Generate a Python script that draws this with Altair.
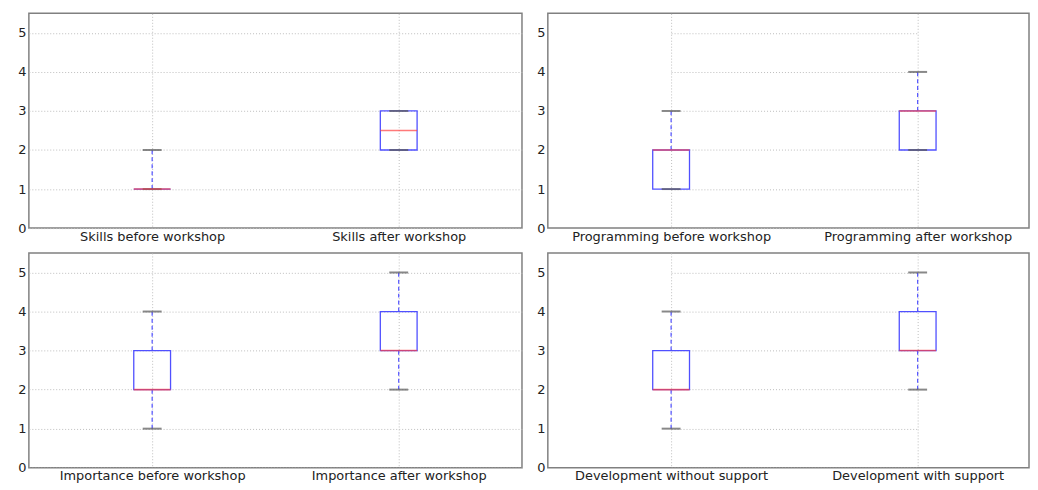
import altair as alt
import pandas as pd

panel_cats = [
    ["Skills before workshop", "Skills after workshop"],
    ["Programming before workshop", "Programming after workshop"],
    ["Importance before workshop", "Importance after workshop"],
    ["Development without support", "Development with support"],
]
whisker_lo = [[1, 2], [1, 2], [1, 2], [1, 2]]
q1 = [[1, 2], [1, 2], [2, 3], [2, 3]]
median = [[1, 2.5], [2, 3], [2, 3], [2, 3]]
q3 = [[1, 3], [2, 3], [3, 4], [3, 4]]
whisker_hi = [[2, 3], [3, 4], [4, 5], [4, 5]]
y_ticks = [0, 1, 2, 3, 4, 5]

BLUE = "#5050ff"
RED = "#ff4040"
CAP = "#555555"
FONT = "DejaVu Sans"
H = 216


def panel(i, width, xrange=None):
    df = pd.DataFrame({
        "cat": panel_cats[i],
        "lo": whisker_lo[i],
        "q1": q1[i],
        "med": median[i],
        "q3": q3[i],
        "hi": whisker_hi[i],
    })
    if xrange is None:
        xscale = alt.Scale(type="point", padding=0.5)
    else:
        xscale = alt.Scale(type="point", range=xrange, padding=0)
    x = alt.X(
        "cat:N", sort=panel_cats[i], scale=xscale,
        axis=alt.Axis(title=None, labelAngle=0, grid=True, ticks=False,
                      domain=False, labelPadding=2, labelLimit=0),
    )
    yscale = alt.Scale(domain=[0, 5.5], nice=False, zero=True)
    yaxis = alt.Axis(values=y_ticks, title=None, grid=True, ticks=False,
                     domain=False, labelPadding=3)
    base = alt.Chart(df)
    w1 = base.mark_rule(color=BLUE, strokeDash=[4, 3], strokeWidth=1.2).encode(
        x=x, y=alt.Y("lo:Q", scale=yscale, axis=yaxis), y2="q1:Q")
    w2 = base.mark_rule(color=BLUE, strokeDash=[4, 3], strokeWidth=1.2).encode(
        x=x, y=alt.Y("q3:Q", scale=yscale, axis=yaxis), y2="hi:Q")
    box = base.mark_bar(size=37, fill="white", fillOpacity=0, stroke=BLUE,
                        strokeWidth=1.3).encode(
        x=x, y=alt.Y("q1:Q", scale=yscale, axis=yaxis), y2="q3:Q")
    cap_lo = base.mark_tick(size=19, thickness=2, color=CAP).encode(
        x=x, y=alt.Y("lo:Q", scale=yscale, axis=yaxis))
    cap_hi = base.mark_tick(size=19, thickness=2, color=CAP).encode(
        x=x, y=alt.Y("hi:Q", scale=yscale, axis=yaxis))
    med = base.mark_tick(size=37, thickness=1.6, color=RED).encode(
        x=x, y=alt.Y("med:Q", scale=yscale, axis=yaxis))
    return alt.layer(w1, w2, box, cap_lo, cap_hi, med).properties(width=width, height=H)


top = alt.hconcat(panel(0, 496), panel(1, 484, [124, 372]), spacing=12)
bottom = alt.hconcat(panel(2, 496), panel(3, 484, [124, 372]), spacing=12)
chart = alt.vconcat(top, bottom, spacing=8).properties(
    padding={"left": 8, "top": 3, "right": 0, "bottom": 0},
    background="white",
).configure_view(
    stroke="#808080", strokeWidth=1.5
).configure_axis(
    labelFont=FONT, labelFontSize=13, labelColor="#222222",
    gridColor="#bdbdbd", gridDash=[1, 2], gridWidth=1,
)

chart.save("out.html", embed_options={"renderer": "svg", "actions": False})
